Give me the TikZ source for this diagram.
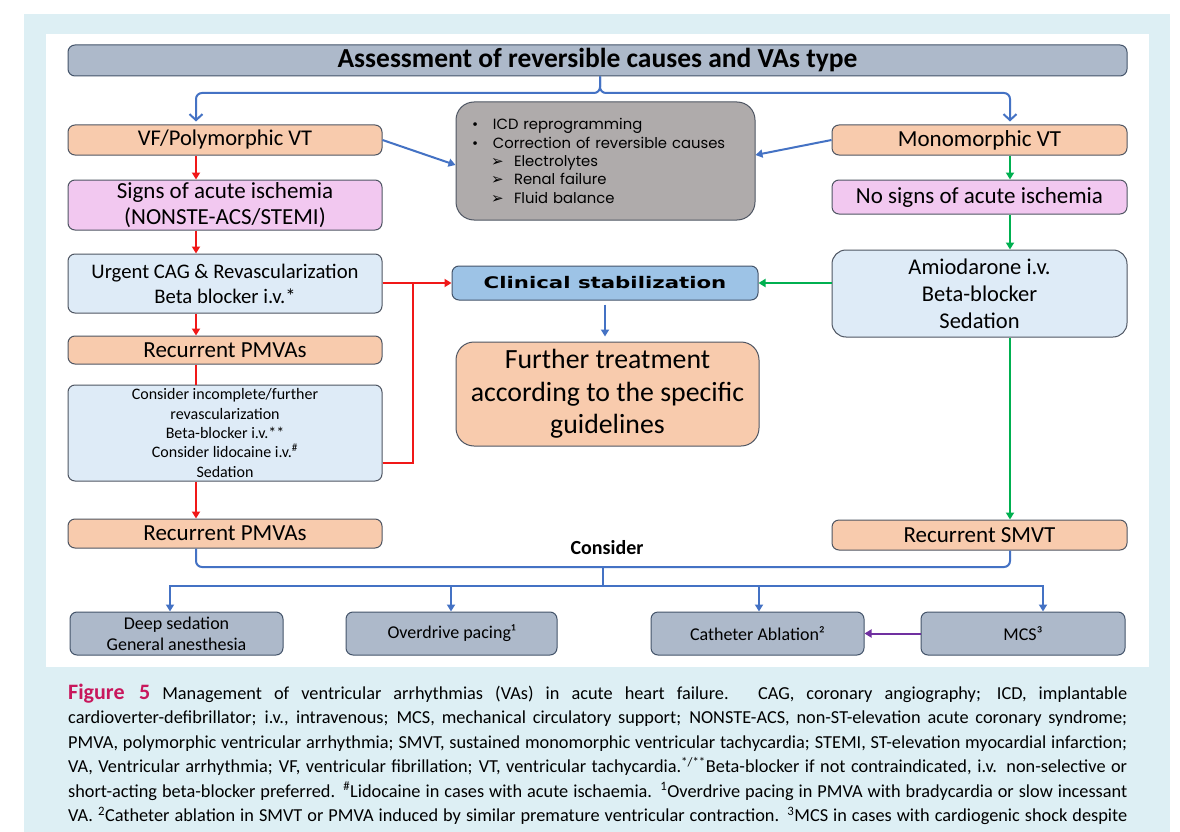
\documentclass[tikz,border=0pt]{standalone}
\usepackage{fontspec}
\setmainfont{Carlito}
\newfontfamily\dejavu{DejaVu Sans}
\newfontfamily\popfont{Poppins}
\usetikzlibrary{arrows.meta,calc}
\definecolor{bgblue}{HTML}{DDEFF4}
\definecolor{peach}{HTML}{F8CBAD}
\definecolor{pinkc}{HTML}{F2C8F0}
\definecolor{lblue}{HTML}{DEEBF7}
\definecolor{grayc}{HTML}{AFABAB}
\definecolor{titlec}{HTML}{ADB9CA}
\definecolor{titleb}{HTML}{44546A}
\definecolor{clinc}{HTML}{9DC3E6}
\definecolor{bordc}{HTML}{4F5663}
\definecolor{cblue}{HTML}{4472C4}
\definecolor{cred}{HTML}{F01818}
\definecolor{cgreen}{HTML}{00B050}
\definecolor{cpurple}{HTML}{7030A0}
\definecolor{figred}{HTML}{C8175C}
\newcommand\fsz[2]{\fontsize{#1}{#2}\selectfont}
\newcommand\capline[1]{\makebox[1059pt][s]{#1}}
\tikzset{
  box/.style={draw=bordc, line width=1pt, rounded corners=7pt, inner sep=0pt, align=center},
  conn/.style={line width=2pt},
  tri/.style={-{Triangle[length=7pt,width=8pt]}},
  barb/.style={-{Straight Barb[length=6pt,width=13pt]}},
  capt/.style={anchor=base west, inner sep=0pt, font=\fsz{18.3}{20}},
}
\begin{document}
\begin{tikzpicture}[x=1pt,y=-1pt]
\useasboundingbox (0,0) rectangle (1180,832);
\fill[white] (0,0) rectangle (1180,832);
\fill[bgblue] (24,14) rectangle (1170,832);
\fill[white] (46,34) rectangle (1149,667);

% nodes
\node[box, fill=titlec, draw=titleb, minimum width=1059pt, minimum height=31pt, font=\fsz{27.5}{30}\bfseries] (title) at (597.5,60.5) {Assessment of reversible causes and VAs type};

\node[box, fill=peach, minimum width=314pt, minimum height=30pt, font=\fsz{22.5}{25}] (vf) at (225,140) {VF/Polymorphic VT};
\node[box, fill=pinkc, minimum width=314pt, minimum height=50pt, font=\fsz{23}{26}] (signs) at (225,205) {Signs of acute ischemia\\(NONSTE-ACS/STEMI)};
\node[box, fill=lblue, minimum width=314pt, minimum height=59pt, font=\fsz{20.7}{25}] (urgent) at (225,283.5) {Urgent CAG \& Revascularization\\Beta blocker i.v.*};
\node[box, fill=peach, minimum width=314pt, minimum height=28pt, font=\fsz{23}{25}] (rec1) at (225,350) {Recurrent PMVAs};
\node[box, fill=lblue, minimum width=314pt, minimum height=96pt, font=\fsz{16}{19.3}] (cons) at (225,433) {Consider incomplete/further\\revascularization\\Beta-blocker i.v.**\\Consider lidocaine i.v.\textsuperscript{\#}\\Sedation};
\node[box, fill=peach, minimum width=314pt, minimum height=29pt, font=\fsz{23}{25}] (rec2) at (225,533.5) {Recurrent PMVAs};

\node[box, fill=grayc, rounded corners=18pt, minimum width=299pt, minimum height=118pt, text width=299pt, align=left, font=\popfont\fsz{14.8}{18.4}] (gray) at (605.5,161) {%
\hspace*{16pt}\makebox[21pt][l]{•}ICD reprogramming\\
\hspace*{16pt}\makebox[21pt][l]{•}Correction of reversible causes\\
\hspace*{35pt}\makebox[23pt][l]{\dejavu\fsz{15}{15}➢}Electrolytes\\
\hspace*{35pt}\makebox[23pt][l]{\dejavu\fsz{15}{15}➢}Renal failure\\
\hspace*{35pt}\makebox[23pt][l]{\dejavu\fsz{15}{15}➢}Fluid balance};

\node[box, fill=clinc, draw=titleb, minimum width=306pt, minimum height=34pt] (clin) at (605,283) {\scalebox{1.33}[1]{\dejavu\bfseries\fsz{16}{18}Clinical stabilization}};
\node[box, fill=peach, rounded corners=18pt, minimum width=303pt, minimum height=104pt, font=\fsz{27.8}{32.5}] (further) at (607.5,394) {Further treatment\\according to the specific\\guidelines};

\node[box, fill=peach, minimum width=295pt, minimum height=30pt, font=\fsz{23}{25}] (mono) at (979.5,140) {Monomorphic VT};
\node[box, fill=pinkc, minimum width=295pt, minimum height=34pt, font=\fsz{23}{25}] (nosigns) at (979.5,197) {No signs of acute ischemia};
\node[box, fill=lblue, rounded corners=14pt, minimum width=295pt, minimum height=87pt, font=\fsz{22.5}{27}] (amio) at (979.5,293.5) {Amiodarone i.v.\\Beta-blocker\\Sedation};
\node[box, fill=peach, minimum width=295pt, minimum height=30pt, font=\fsz{23}{25}] (smvt) at (979.5,535) {Recurrent SMVT};

\node[font=\fsz{20}{22}\bfseries, inner sep=0pt] (consider) at (607,548) {Consider};

\node[box, fill=titlec, draw=titleb, minimum width=213pt, minimum height=43pt, font=\fsz{18}{21}] (deep) at (176.5,633.5) {Deep sedation\\General anesthesia};
\node[box, fill=titlec, draw=titleb, minimum width=211pt, minimum height=43pt, font=\fsz{18}{21}] (over) at (451.5,633.5) {Overdrive pacing¹};
\node[box, fill=titlec, draw=titleb, minimum width=213pt, minimum height=43pt, font=\fsz{18}{21}] (cath) at (757.5,633.5) {Catheter Ablation²};
\node[box, fill=titlec, draw=titleb, minimum width=204pt, minimum height=43pt, font=\fsz{18}{21}] (mcs) at (1023,633.5) {MCS³};

% coordinates
\coordinate (xL) at (196,0);
\coordinate (xR) at (1010,0);
\coordinate (xC) at (600,0);
\coordinate (jtop) at (600,93);
\coordinate (xM) at (413,0);
\coordinate (consout) at ($(cons.south east)+(0,-19)$);
\coordinate (jb1) at (603,567);
\coordinate (jb2) at (603,586);
\coordinate (xD) at (170,0);
\coordinate (xO) at (451,0);
\coordinate (xK) at (759,0);
\coordinate (xS) at (1043,0);

% top blue connectors
\draw[conn, cblue, barb, rounded corners=6pt] (title.south -| xC) |- (jtop -| xL) -- ($(vf.north -| xL)+(0,-3)$);
\draw[conn, cblue, barb, rounded corners=6pt] (title.south -| xC) |- (jtop -| xR) -- ($(mono.north -| xR)+(0,-3)$);
\draw[conn, cblue, tri] (vf.east) -- ($(gray.west)+(0,4)$);
\draw[conn, cblue, tri] (mono.west) -- ($(gray.east)+(0,-6)$);
\draw[conn, cblue, tri] ($(clin.south)+(0,4)$) -- ($(clin.south |- further.north)+(0,-5)$);

% red connectors
\draw[conn, cred, tri] (vf.south -| xL) -- (signs.north -| xL);
\draw[conn, cred, tri] (signs.south -| xL) -- (urgent.north -| xL);
\draw[conn, cred, tri] (urgent.south -| xL) -- (rec1.north -| xL);
\draw[conn, cred] (rec1.south -| xL) -- (cons.north -| xL);
\draw[conn, cred, tri] (cons.south -| xL) -- (rec2.north -| xL);
\draw[conn, cred, tri] (urgent.east |- clin.west) -- (clin.west);
\draw[conn, cred] (consout) -| (xM |- clin.west);

% green connectors
\draw[conn, cgreen, tri] (mono.south -| xR) -- (nosigns.north -| xR);
\draw[conn, cgreen, tri] (nosigns.south -| xR) -- (amio.north -| xR);
\draw[conn, cgreen, tri] (amio.west |- clin.east) -- (clin.east);
\draw[conn, cgreen, tri] (amio.south -| xR) -- (smvt.north -| xR);

% bottom blue connectors
\draw[conn, cblue, rounded corners=6pt] (rec2.south -| xL) |- (jb1);
\draw[conn, cblue, rounded corners=6pt] (smvt.south -| xR) |- (jb1);
\draw[conn, cblue] (jb1) -- (jb2);
\draw[conn, cblue, tri] (jb2) -| (deep.north -| xD);
\draw[conn, cblue, tri] (jb2) -| (mcs.north -| xS);
\draw[conn, cblue, tri] (jb2 -| xO) -- (over.north -| xO);
\draw[conn, cblue, tri] (jb2 -| xK) -- (cath.north -| xK);
\draw[conn, cpurple, tri] (mcs.west) -- (cath.east);

% caption
\node[capt] (c1) at (68,699) {\capline{{\color{figred}\bfseries\fsz{22}{22}Figure 5} Management of ventricular arrhythmias (VAs) in acute heart failure. CAG, coronary angiography; ICD, implantable}};
\node[capt] (c2) at (68,723.5) {\capline{cardioverter-defibrillator; i.v., intravenous; MCS, mechanical circulatory support; NONSTE-ACS, non-ST-elevation acute coronary syndrome;}};
\node[capt] (c3) at (68,748) {\capline{PMVA, polymorphic ventricular arrhythmia; SMVT, sustained monomorphic ventricular tachycardia; STEMI, ST-elevation myocardial infarction;}};
\node[capt] (c4) at (68,772.5) {\capline{VA, Ventricular arrhythmia; VF, ventricular fibrillation; VT, ventricular tachycardia.\textsuperscript{*/**}Beta-blocker if not contraindicated, i.v. non-selective or}};
\node[capt] (c5) at (68,797) {\capline{short-acting beta-blocker preferred. \textsuperscript{\#}Lidocaine in cases with acute ischaemia. \textsuperscript{1}Overdrive pacing in PMVA with bradycardia or slow incessant}};
\node[capt] (c6) at (68,821.5) {\capline{VA. \textsuperscript{2}Catheter ablation in SMVT or PMVA induced by similar premature ventricular contraction. \textsuperscript{3}MCS in cases with cardiogenic shock despite}};
\end{tikzpicture}
\end{document}
